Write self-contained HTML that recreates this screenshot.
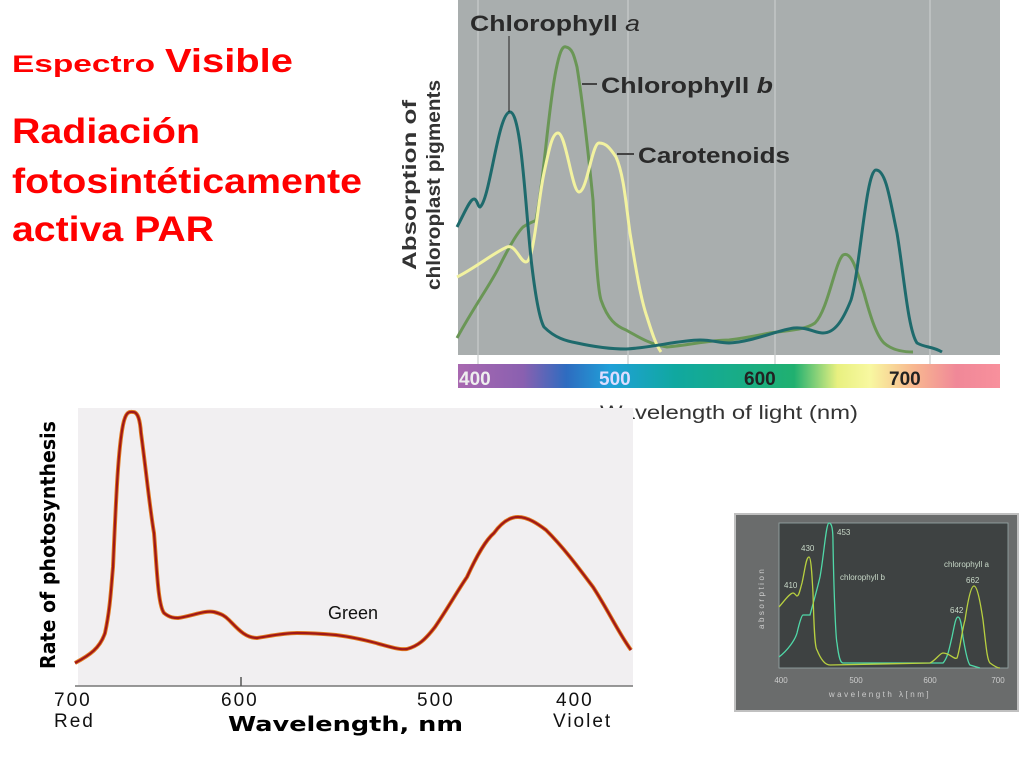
<!DOCTYPE html>
<html><head><meta charset="utf-8"><style>
html,body{margin:0;padding:0;background:#fff;width:1024px;height:768px;overflow:hidden}
svg{display:block}
</style></head><body>
<svg width="1024" height="768" viewBox="0 0 1024 768" xmlns="http://www.w3.org/2000/svg" font-family="Liberation Sans, sans-serif">
<defs>
<linearGradient id="spec" x1="458" x2="1000" y1="0" y2="0" gradientUnits="userSpaceOnUse">
<stop offset="0" stop-color="#a868b0"/><stop offset="0.12" stop-color="#8a60b0"/>
<stop offset="0.2" stop-color="#2e6cc0"/><stop offset="0.28" stop-color="#20a0d8"/>
<stop offset="0.4" stop-color="#10a8a0"/><stop offset="0.62" stop-color="#20b070"/>
<stop offset="0.7" stop-color="#e8f080"/><stop offset="0.76" stop-color="#f8f8a0"/>
<stop offset="0.84" stop-color="#f8b890"/><stop offset="0.92" stop-color="#f08898"/>
<stop offset="1" stop-color="#f8909c"/></linearGradient>
</defs>
<!-- left title text -->
<text x="12" y="72" fill="#ff0000" font-weight="bold" font-size="24" textLength="143" lengthAdjust="spacingAndGlyphs">Espectro</text>
<text x="165" y="72" fill="#ff0000" font-weight="bold" font-size="33" textLength="128" lengthAdjust="spacingAndGlyphs">Visible</text>
<text x="12" y="143" fill="#ff0000" font-weight="bold" font-size="35" textLength="188" lengthAdjust="spacingAndGlyphs">Radiación</text>
<text x="12" y="193" fill="#ff0000" font-weight="bold" font-size="35" textLength="350" lengthAdjust="spacingAndGlyphs">fotosintéticamente</text>
<text x="12" y="241" fill="#ff0000" font-weight="bold" font-size="35" textLength="202" lengthAdjust="spacingAndGlyphs">activa PAR</text>

<!-- top right chart -->
<rect x="458" y="0" width="542" height="355" fill="#a9aeae"/>
<g stroke="#c8cccc" stroke-width="1.2">
<line x1="478" y1="0" x2="478" y2="365"/><line x1="628" y1="0" x2="628" y2="365"/>
<line x1="775" y1="0" x2="775" y2="365"/><line x1="930" y1="0" x2="930" y2="365"/></g>
<rect x="458" y="364" width="542" height="24" fill="url(#spec)"/>
<g font-weight="bold" font-size="19" fill="#222"><text x="459" y="385" fill="#eee">400</text><text x="599" y="385" fill="#ddf">500</text><text x="744" y="385">600</text><text x="889" y="385">700</text></g>
<text x="600" y="419" font-size="19" fill="#333" textLength="258" lengthAdjust="spacingAndGlyphs">Wavelength of light (nm)</text>
<g transform="translate(416,185) rotate(-90)" font-size="19" fill="#333" text-anchor="middle" font-weight="bold"><text x="0" y="0" textLength="170" lengthAdjust="spacingAndGlyphs">Absorption of</text><text x="0" y="24" textLength="210" lengthAdjust="spacingAndGlyphs">chloroplast pigments</text></g>
<path d="M457,338 C475,305 490,285 499,267 C510,245 518,232 523,227 C530,222 534,222 536,220 C544,180 548,110 556,70 C559,55 562,45 566,47 C572,48 574,55 577,67 C584,110 590,170 593,200 C596,260 598,290 601,300 C608,320 616,326 626,330 C640,338 652,345 667,347 C690,345 710,340 729,340 C745,338 760,335 770,333 C790,330 805,330 815,323 C828,310 835,262 843,255 C852,250 858,275 864,293 C870,315 876,335 884,343 C892,350 903,352 913,352" fill="none" stroke="#6a9656" stroke-width="3"/>
<path d="M457,277 C475,268 495,252 507,247 C516,244 520,262 526,262 C534,262 538,200 544,173 C549,150 552,133 558,133 C566,133 572,192 579,192 C587,192 592,143 599,143 C606,143 610,148 616,157 C624,175 626,205 630,233 C636,270 641,300 647,317 C652,333 656,345 661,352" fill="none" stroke="#f2f2a0" stroke-width="3"/>
<path d="M457,227 C465,212 470,199 474,199 C477,199 478,207 480,207 C490,200 498,112 510,112 C522,112 526,220 532,267 C536,300 540,320 544,327 C555,338 566,341 577,343 C595,347 610,349 626,349 C650,348 680,340 700,340 C712,340 720,343 729,343 C752,342 778,330 794,328 C808,327 815,333 823,333 C835,333 843,320 851,300 C860,270 866,170 876,170 C886,170 890,200 897,233 C904,275 908,330 917,343 C926,348 932,346 942,352" fill="none" stroke="#1e6a6c" stroke-width="3"/>
<line x1="509" y1="36" x2="509" y2="112" stroke="#222" stroke-width="1"/>
<line x1="582" y1="84" x2="597" y2="84" stroke="#444" stroke-width="2"/>
<line x1="617" y1="154" x2="634" y2="154" stroke="#444" stroke-width="2"/>
<g font-weight="bold" font-size="22" fill="#2a2a2a">
<text x="470" y="31" textLength="170" lengthAdjust="spacingAndGlyphs">Chlorophyll <tspan font-style="italic" font-weight="normal">a</tspan></text>
<text x="601" y="93" textLength="172" lengthAdjust="spacingAndGlyphs">Chlorophyll <tspan font-style="italic">b</tspan></text>
<text x="638" y="163" textLength="152" lengthAdjust="spacingAndGlyphs">Carotenoids</text></g>

<!-- bottom left chart -->
<rect x="78" y="408" width="555" height="278" fill="#f1eff1"/>
<line x1="75" y1="686" x2="633" y2="686" stroke="#777" stroke-width="1.5"/>
<line x1="241" y1="677" x2="241" y2="686" stroke="#555" stroke-width="1.5"/>
<path d="M75,663 C90,655 100,648 105,633 C110,610 111,590 113,567 C116,500 118,450 123,425 C126,410 130,412 133,412 C138,412 140,420 141,433 C146,470 150,510 154,533 C157,570 158,605 164,613 C170,618 175,618 178,618 C192,616 205,610 214,612 C222,614 225,616 229,620 C237,628 245,638 257,638 C270,636 283,633 297,633 C312,633 325,634 336,635 C352,637 365,640 376,643 C390,647 400,650 407,649 C418,646 425,640 435,627 C448,608 458,590 467,577 C478,553 486,540 494,533 C502,522 510,517 518,517 C528,517 538,524 546,530 C564,548 578,567 593,587 C608,610 618,632 631,650" fill="none" stroke="#e07a20" stroke-width="4"/>
<path d="M75,663 C90,655 100,648 105,633 C110,610 111,590 113,567 C116,500 118,450 123,425 C126,410 130,412 133,412 C138,412 140,420 141,433 C146,470 150,510 154,533 C157,570 158,605 164,613 C170,618 175,618 178,618 C192,616 205,610 214,612 C222,614 225,616 229,620 C237,628 245,638 257,638 C270,636 283,633 297,633 C312,633 325,634 336,635 C352,637 365,640 376,643 C390,647 400,650 407,649 C418,646 425,640 435,627 C448,608 458,590 467,577 C478,553 486,540 494,533 C502,522 510,517 518,517 C528,517 538,524 546,530 C564,548 578,567 593,587 C608,610 618,632 631,650" fill="none" stroke="#a01818" stroke-width="2.2"/>
<text x="328" y="619" font-size="18" fill="#111">Green</text>
<g font-size="19" fill="#111" letter-spacing="2"><text x="54" y="706">700</text><text x="54" y="727">Red</text><text x="221" y="706">600</text><text x="417" y="706">500</text><text x="556" y="706">400</text><text x="553" y="727">Violet</text></g>
<text x="228" y="731" font-size="20" font-weight="900" fill="#000" font-family="DejaVu Sans, sans-serif" textLength="235" lengthAdjust="spacingAndGlyphs">Wavelength, nm</text>
<text transform="translate(55,669) rotate(-90)" font-size="20" font-weight="900" fill="#000" font-family="DejaVu Sans, sans-serif" textLength="248" lengthAdjust="spacingAndGlyphs">Rate of photosynthesis</text>

<!-- bottom right inset -->
<rect x="735" y="514" width="283" height="197" fill="#6a6c6c" stroke="#c0c0c0" stroke-width="2"/>
<rect x="779" y="523" width="229" height="145" fill="#3e4242" stroke="#9aa" stroke-width="0.8"/>
<path d="M779,657 C788,650 795,640 797,633 C800,620 802,615 803,615 L810,615 C814,600 817,590 820,577 C824,555 826,523 829,523 C832,523 833,530 833,543 C834,600 836,640 837,643 C839,660 841,663 843,663 L943,663 C948,658 950,645 952,637 C955,622 956,617 958,617 C961,617 962,630 963,637 C966,655 968,663 970,665 L980,668" fill="none" stroke="#50d8a8" stroke-width="1.3"/>
<path d="M779,607 C785,600 790,593 793,593 C795,593 796,596 797,596 C799,596 800,590 802,583 C805,570 806,557 809,557 C811,557 812,575 813,593 C814,630 815,648 817,650 C821,660 825,665 830,665 L930,663 C936,660 940,653 943,653 C950,653 954,660 957,658 C960,650 962,630 965,620 C968,600 971,586 974,586 C977,586 980,600 983,620 C986,645 987,660 990,663 C994,666 997,668 1000,668" fill="none" stroke="#b8d040" stroke-width="1.3"/>
<g font-size="8" fill="#c8d8c8"><text x="837" y="535">453</text><text x="801" y="551">430</text><text x="784" y="588">410</text><text x="840" y="580">chlorophyll b</text><text x="944" y="567">chlorophyll a</text><text x="966" y="583">662</text><text x="950" y="613">642</text></g>
<g font-size="8" fill="#ccc" text-anchor="middle"><text x="781" y="683">400</text><text x="856" y="683">500</text><text x="930" y="683">600</text><text x="998" y="683">700</text>
<text x="880" y="697" letter-spacing="2.5">wavelength λ[nm]</text></g>
<text transform="translate(764,629) rotate(-90)" font-size="8" fill="#ccc" letter-spacing="2.5">absorption</text>
</svg>
</body></html>
